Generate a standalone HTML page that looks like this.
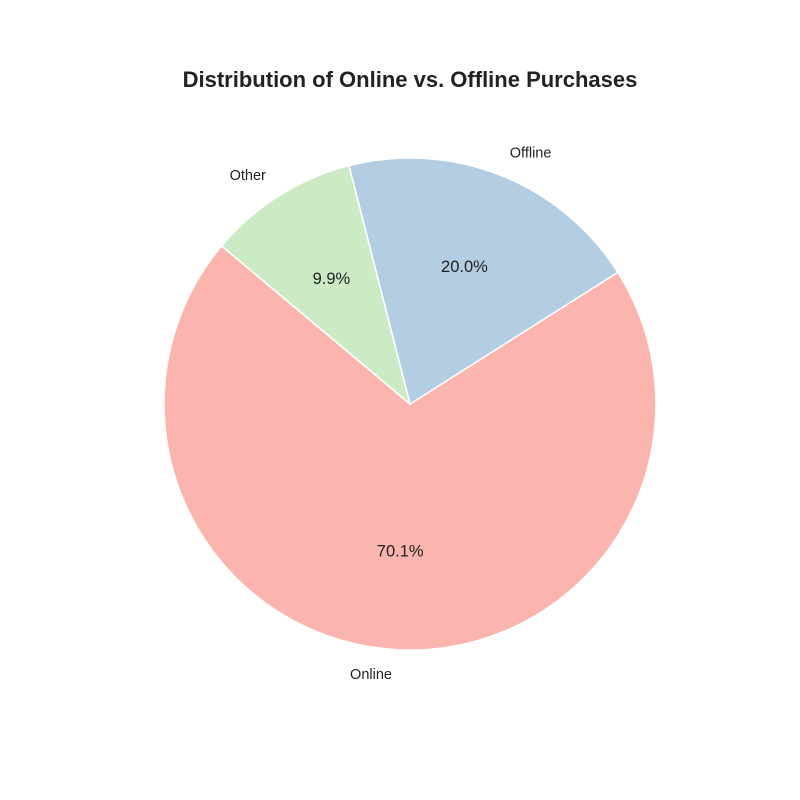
<!DOCTYPE html>
<html><head><meta charset="utf-8"><style>
html,body{margin:0;padding:0;background:#fff;}
svg{display:block;font-family:"Liberation Sans","DejaVu Sans",sans-serif;}
</style></head><body>
<svg id="chart" width="800" height="800" viewBox="0 0 800 800">
<text x="410" y="87" text-anchor="middle" font-size="22" font-weight="bold" fill="#222">Distribution of Online vs. Offline Purchases</text>
<g id="slices"></g>
</svg>
<script>
const categories = ["Online", "Offline", "Other"];
const values = [70.1, 20.0, 9.9];
const colors = ["#fbb4ae", "#b3cde3", "#ccebc5"];
const cx = 410, cy = 404, R = 246, startAngle = 140;
const g = document.getElementById('slices');
const ns = 'http://www.w3.org/2000/svg';
const total = values.reduce((a, b) => a + b, 0);
function pt(deg, r) { const a = deg * Math.PI / 180; return [cx + r * Math.cos(a), cy - r * Math.sin(a)]; }
let ang = startAngle;
values.forEach((v, i) => {
  const sweep = v / total * 360;
  const a0 = ang, a1 = ang + sweep;
  const p0 = pt(a0, R), p1 = pt(a1, R);
  const large = sweep > 180 ? 1 : 0;
  const path = document.createElementNS(ns, 'path');
  path.setAttribute('d', `M${cx},${cy} L${p0[0]},${p0[1]} A${R},${R} 0 ${large} 0 ${p1[0]},${p1[1]} Z`);
  path.setAttribute('fill', colors[i]);
  path.setAttribute('stroke', '#fff');
  path.setAttribute('stroke-width', '1.5');
  
  
  g.appendChild(path);
  const mid = (a0 + a1) / 2;
  const lp = pt(mid, R * 1.1);
  const lab = document.createElementNS(ns, 'text');
  const c = Math.cos(mid * Math.PI / 180);
  lab.setAttribute('x', lp[0]);
  lab.setAttribute('y', lp[1] + 5);
  lab.setAttribute('text-anchor', c > 0.01 ? 'start' : (c < -0.01 ? 'end' : 'middle'));
  lab.setAttribute('font-size', '14.5');
  lab.setAttribute('fill', '#222');
  lab.textContent = categories[i];
  
  
  g.appendChild(lab);
  const pp = pt(mid, R * 0.6);
  const pct = document.createElementNS(ns, 'text');
  pct.setAttribute('x', pp[0]);
  pct.setAttribute('y', pp[1] + 5);
  pct.setAttribute('text-anchor', 'middle');
  pct.setAttribute('font-size', '16.5');
  pct.setAttribute('fill', '#222');
  pct.textContent = (v / total * 100).toFixed(1) + '%';
  
  
  g.appendChild(pct);
  ang = a1;
});
</script>
</body></html>
